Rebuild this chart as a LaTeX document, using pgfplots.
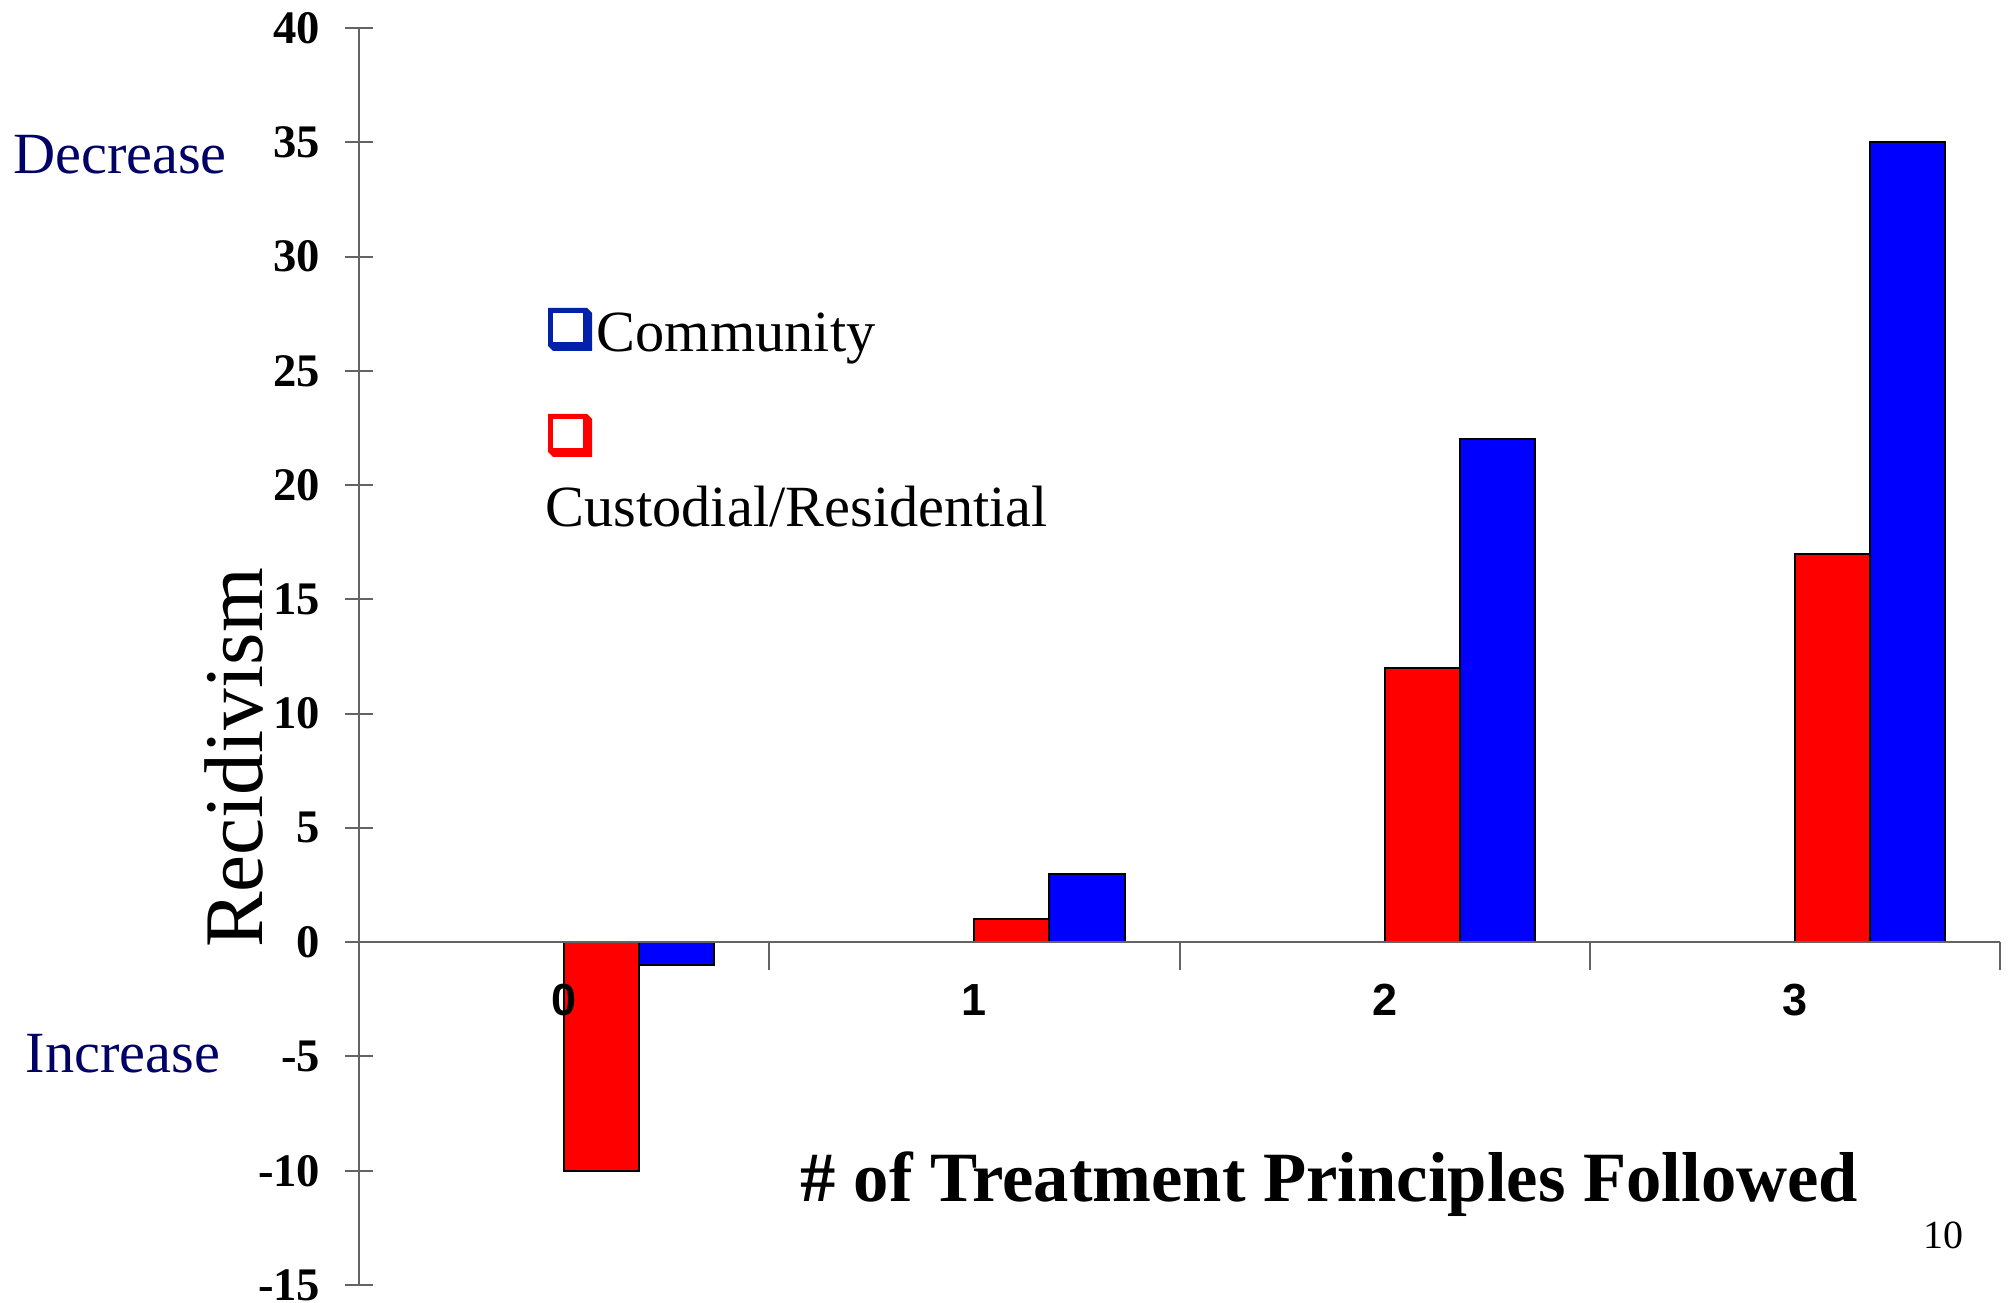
\documentclass[border=0pt]{standalone}
\usepackage{fontspec}
\setmainfont{Liberation Serif}
\setsansfont{Liberation Sans}
\usepackage{pgfplots}
\usepackage{pgfplotstable}
\pgfplotsset{compat=1.18}

\definecolor{navytext}{RGB}{0,0,102}
\definecolor{barred}{RGB}{255,0,0}
\definecolor{barblue}{RGB}{0,0,255}
\definecolor{iconblue}{RGB}{0,34,168}
\definecolor{axisgray}{RGB}{100,100,100}

% change in recidivism by number of treatment principles followed
\pgfplotstableread{
x custodial community
0 -10 -1
1 1 3
2 12 22
3 17 35
}\recid

\begin{document}
\begin{tikzpicture}
\begin{axis}[
    at={(0,0)}, anchor=south west,
    scale only axis, width=492.3pt, height=377.1pt,
    xmin=-0.5, xmax=3.5, ymin=-15, ymax=40,
    axis y line=left, axis x line=middle,
    axis on top,
    axis line style={-, draw=axisgray, line width=0.6pt},
    hide obscured x ticks=false, hide obscured y ticks=false,
    tick align=center, major tick length=8.4pt,
    /pgf/number format/assume math mode=true,
    ytick={-15,-10,...,40},
    ytick style={draw=axisgray, line width=0.6pt},
    yticklabel style={anchor=east, inner sep=0pt, xshift=-7.2pt,
        font=\fontsize{14}{16}\selectfont\bfseries},
    xtick={0,1,2,3},
    xtick style={draw=none},
    xticklabel style={anchor=center, inner sep=0pt, yshift=-9pt,
        font=\fontsize{13.5}{16}\selectfont\sffamily\bfseries},
    extra x ticks={0.5,1.5,2.5,3.5},
    extra x tick labels={},
    extra x tick style={xtick style={draw=axisgray, line width=0.6pt}},
    ybar, bar width=0.183,
]
\addplot[fill=barred, draw=black, line width=0.6pt, bar shift=0.0915]
    table[x=x, y=custodial] {\recid};
\addplot[fill=barblue, draw=black, line width=0.6pt, bar shift=0.2745]
    table[x=x, y=community] {\recid};
\end{axis}

% annotations, in pixel units of the reference
\begin{scope}[shift={(-107.7pt,385.5pt)}, x=0.3pt, y=-0.3pt]
\node[anchor=base, inner sep=0pt, text=navytext, font=\fontsize{17.5}{20}\selectfont]
    at (120,174) {Decrease};
\node[anchor=base, inner sep=0pt, text=navytext, font=\fontsize{17.5}{20}\selectfont]
    at (123,1073) {Increase};
\node[anchor=base, inner sep=0pt, rotate=90, font=\fontsize{25}{30}\selectfont]
    at (262,758) {Recidivism};
\node[anchor=base, inner sep=0pt, font=\fontsize{21.2}{24}\selectfont\bfseries]
    at (1329.5,1202) {\# of Treatment Principles Followed};
\node[anchor=base, inner sep=0pt, font=\fontsize{12}{14}\selectfont]
    at (1943.5,1249) {10};
% legend
\fill[iconblue] (548,308) -- (587,308) -- (592,313) -- (592,351) -- (553,351) -- (548,346) -- cycle;
\fill[white] (553,313) rectangle (583,342);
\fill[barred] (548,414) -- (587,414) -- (592,419) -- (592,457) -- (553,457) -- (548,452) -- cycle;
\fill[white] (553,419) rectangle (583,448);
\node[anchor=base west, inner sep=0pt, font=\fontsize{17.5}{20}\selectfont]
    at (596,352) {Community};
\node[anchor=base west, inner sep=0pt, font=\fontsize{17.5}{20}\selectfont]
    at (545,527) {Custodial/Residential};
\pgfresetboundingbox
\path[use as bounding box] (0,0) rectangle (2009,1303);
\end{scope}
\end{tikzpicture}
\end{document}
